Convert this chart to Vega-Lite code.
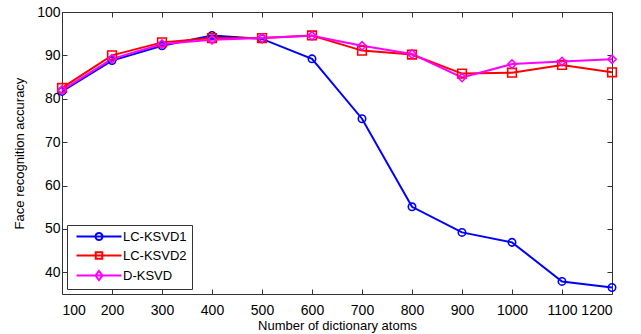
{
  "$schema": "https://vega.github.io/schema/vega-lite/v6.json",
  "width": 550,
  "height": 282,
  "autosize": "none",
  "padding": {"left": 62, "top": 12, "right": 29, "bottom": 40},
  "background": "white",
  "config": {
    "font": "Liberation Sans",
    "view": {"stroke": "#333", "strokeWidth": 1},
    "axis": {"grid": false, "domain": false, "tickColor": "#333", "tickSize": -5, "labelFontSize": 14, "labelColor": "#000", "titleFontSize": 13, "titleFontWeight": "normal", "titleColor": "#000", "labelFont": "Liberation Sans", "titleFont": "Liberation Sans", "labelOverlap": false, "format": "d"}
  },
  "data": {"values": [
    {"atoms": 100, "method": "LC-KSVD1", "acc": 81.7},
    {"atoms": 200, "method": "LC-KSVD1", "acc": 88.8},
    {"atoms": 300, "method": "LC-KSVD1", "acc": 92.2},
    {"atoms": 400, "method": "LC-KSVD1", "acc": 94.6},
    {"atoms": 500, "method": "LC-KSVD1", "acc": 93.8},
    {"atoms": 600, "method": "LC-KSVD1", "acc": 89.2},
    {"atoms": 700, "method": "LC-KSVD1", "acc": 75.4},
    {"atoms": 800, "method": "LC-KSVD1", "acc": 55.1},
    {"atoms": 900, "method": "LC-KSVD1", "acc": 49.2},
    {"atoms": 1000, "method": "LC-KSVD1", "acc": 46.9},
    {"atoms": 1100, "method": "LC-KSVD1", "acc": 37.9},
    {"atoms": 1200, "method": "LC-KSVD1", "acc": 36.5},
    {"atoms": 100, "method": "LC-KSVD2", "acc": 82.5},
    {"atoms": 200, "method": "LC-KSVD2", "acc": 90.0},
    {"atoms": 300, "method": "LC-KSVD2", "acc": 93.0},
    {"atoms": 400, "method": "LC-KSVD2", "acc": 94.0},
    {"atoms": 500, "method": "LC-KSVD2", "acc": 94.0},
    {"atoms": 600, "method": "LC-KSVD2", "acc": 94.6},
    {"atoms": 700, "method": "LC-KSVD2", "acc": 91.1},
    {"atoms": 800, "method": "LC-KSVD2", "acc": 90.2},
    {"atoms": 900, "method": "LC-KSVD2", "acc": 85.8},
    {"atoms": 1000, "method": "LC-KSVD2", "acc": 86.0},
    {"atoms": 1100, "method": "LC-KSVD2", "acc": 87.8},
    {"atoms": 1200, "method": "LC-KSVD2", "acc": 86.1},
    {"atoms": 100, "method": "D-KSVD", "acc": 82.0},
    {"atoms": 200, "method": "D-KSVD", "acc": 89.2},
    {"atoms": 300, "method": "D-KSVD", "acc": 92.6},
    {"atoms": 400, "method": "D-KSVD", "acc": 93.6},
    {"atoms": 500, "method": "D-KSVD", "acc": 94.0},
    {"atoms": 600, "method": "D-KSVD", "acc": 94.5},
    {"atoms": 700, "method": "D-KSVD", "acc": 92.2},
    {"atoms": 800, "method": "D-KSVD", "acc": 90.3},
    {"atoms": 900, "method": "D-KSVD", "acc": 84.9},
    {"atoms": 1000, "method": "D-KSVD", "acc": 88.0},
    {"atoms": 1100, "method": "D-KSVD", "acc": 88.6},
    {"atoms": 1200, "method": "D-KSVD", "acc": 89.1}
  ]},
  "encoding": {
    "x": {"field": "atoms", "type": "quantitative", "scale": {"domain": [100, 1200], "nice": false, "zero": false}},
    "y": {"field": "acc", "type": "quantitative", "scale": {"domain": [35, 100], "nice": false, "zero": false}},
    "color": {"field": "method", "type": "nominal", "scale": {"domain": ["LC-KSVD1", "LC-KSVD2", "D-KSVD"], "range": ["#0000ff", "#ff0000", "#ff00ff"]}}
  },
  "layer": [
    {
      "mark": {"type": "line", "strokeWidth": 2},
      "encoding": {
        "x": {"field": "atoms", "type": "quantitative", "axis": {"title": "Number of dictionary atoms", "values": [100,200,300,400,500,600,700,800,900,1000,1100,1200], "labelPadding": 14, "titlePadding": 2}},
        "y": {"field": "acc", "type": "quantitative", "axis": {"title": "Face recognition accuracy", "values": [40,50,60,70,80,90,100], "labelPadding": 7, "titlePadding": 10}},
        "color": {"field": "method", "type": "nominal", "legend": {
          "title": null,
          "orient": "bottom-left",
          "offset": 5,
          "padding": 5,
          "strokeColor": "#333",
          "fillColor": "white",
          "labelFontSize": 13,
          "labelFont": "Liberation Sans",
          "labelColor": "#000",
          "labelOffset": 38,
          "rowPadding": 4,
          "symbolSize": 100,
          "symbolStrokeWidth": 2,
          "labelExpr": "datum.label + '\u00a0\u00a0\u00a0\u00a0\u00a0\u00a0\u00a0\u00a0\u00a0\u00a0\u00a0\u00a0'",
          "encode": {"symbols": {"update": {
            "shape": {"signal": "datum.value === 'LC-KSVD1' ? 'M-0.4,0L8.6,0M4.8,0A0.7,0.7 0 1,1 3.4,0A0.7,0.7 0 1,1 4.8,0' : datum.value === 'LC-KSVD2' ? 'M-0.4,0L8.6,0M3.45,-0.65L4.75,-0.65L4.75,0.65L3.45,0.65Z' : 'M-0.4,0L8.6,0M4.1,-0.9L4.8,0L4.1,0.9L3.4,0Z'"},
            "size": {"value": 100},
            "fill": {"value": "transparent"},
            "strokeWidth": {"value": 2}
          }}}
        }}
      }
    },
    {
      "transform": [{"filter": "datum.method === 'LC-KSVD1'"}],
      "mark": {"type": "point", "shape": "circle", "filled": false, "strokeWidth": 1.6, "opacity": 1, "size": 55},
      "encoding": {
        "x": {"field": "atoms", "type": "quantitative", "axis": {"orient": "top", "title": null, "labels": false, "values": [100,200,300,400,500,600,700,800,900,1000,1100,1200]}},
        "y": {"field": "acc", "type": "quantitative", "axis": {"orient": "right", "title": null, "labels": false, "values": [40,50,60,70,80,90,100]}}
      }
    },
    {
      "transform": [{"filter": "datum.method === 'LC-KSVD2'"}],
      "mark": {"type": "point", "shape": "square", "filled": false, "strokeWidth": 1.6, "opacity": 1, "size": 75},
      "encoding": {
        "x": {"field": "atoms", "type": "quantitative", "axis": null},
        "y": {"field": "acc", "type": "quantitative", "axis": null}
      }
    },
    {
      "transform": [{"filter": "datum.method === 'D-KSVD'"}],
      "mark": {"type": "point", "shape": "diamond", "filled": false, "strokeWidth": 1.6, "opacity": 1, "size": 70},
      "encoding": {
        "x": {"field": "atoms", "type": "quantitative", "axis": null},
        "y": {"field": "acc", "type": "quantitative", "axis": null}
      }
    }
  ],
  "resolve": {"axis": {"x": "independent", "y": "independent"}}
}
